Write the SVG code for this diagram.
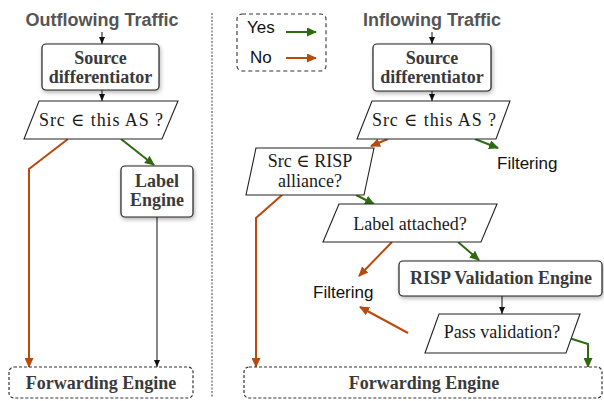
<svg xmlns="http://www.w3.org/2000/svg" width="604" height="401" viewBox="0 0 604 401">
<style>
.title{font-family:"Liberation Sans",Arial,sans-serif;font-weight:bold;font-size:18px;fill:#555;text-anchor:middle}
.bx{fill:#fff;stroke:#222;stroke-width:1.2}
.fw{fill:#fff;stroke:#333;stroke-width:1.2;stroke-dasharray:3 2}
.bt{font-family:"Liberation Serif","Times New Roman",serif;font-weight:bold;font-size:18px;fill:#3a3a3a;text-anchor:middle}
.pt{font-family:"Liberation Serif","DejaVu Serif","Times New Roman",serif;font-size:18px;fill:#1a1a1a;text-anchor:middle}
.st{font-family:"Liberation Sans",Arial,sans-serif;font-size:17px;fill:#111}
.pg{fill:#fff;stroke:#222;stroke-width:1.1}
.or{fill:none;stroke:#b94a0c;stroke-width:2;marker-end:url(#ao)}
.gr{fill:none;stroke:#2d6a10;stroke-width:2;marker-end:url(#ag)}
.bk{fill:none;stroke:#111;stroke-width:1;marker-end:url(#ab)}
</style>
<defs>
<filter id="sh" x="-10%" y="-10%" width="130%" height="140%">
<feDropShadow dx="1" dy="2" stdDeviation="2" flood-color="#000" flood-opacity="0.3"/>
</filter>
<marker id="ao" markerUnits="userSpaceOnUse" markerWidth="10" markerHeight="9" refX="9" refY="4.5" orient="auto"><path d="M0,0 L10,4.5 L0,9 z" fill="#b94a0c"/></marker>
<marker id="ag" markerUnits="userSpaceOnUse" markerWidth="10" markerHeight="9" refX="9" refY="4.5" orient="auto"><path d="M0,0 L10,4.5 L0,9 z" fill="#2d6a10"/></marker>
<marker id="ab" markerUnits="userSpaceOnUse" markerWidth="7" markerHeight="6" refX="7" refY="3" orient="auto"><path d="M0,0 L7,3 L0,6 z" fill="#111"/></marker>
</defs>

<text class="title" x="102" y="26">Outflowing Traffic</text>
<text class="title" x="432" y="26">Inflowing Traffic</text>
<line x1="212" y1="13" x2="212" y2="398" stroke="#444" stroke-width="1" stroke-dasharray="2 1.5"/>

<g id="legend">
<rect x="237" y="14" width="89" height="57" rx="5" fill="#fff" stroke="#333" stroke-width="1.1" stroke-dasharray="4 3"/>
<text class="st" x="247" y="33" font-size="16.5">Yes</text>
<text class="st" x="250" y="63" font-size="16.5">No</text>
<line class="gr" x1="286" y1="32" x2="316" y2="32"/>
<line class="or" x1="286" y1="58" x2="316" y2="58"/>
</g>

<g id="connectors">
<line class="bk" x1="102" y1="32" x2="102" y2="44"/>
<line class="bk" x1="102" y1="90" x2="102" y2="101"/>
<polyline class="or" points="68,139 29,169 29,367"/>
<line class="gr" x1="121" y1="139" x2="154" y2="165"/>
<line class="bk" x1="157" y1="217" x2="157" y2="367"/>

<line class="bk" x1="432" y1="32" x2="432" y2="44"/>
<line class="bk" x1="432" y1="91" x2="432" y2="101"/>
<line class="or" x1="388" y1="139" x2="371" y2="146"/>
<line class="gr" x1="475" y1="139" x2="498" y2="148"/>
<polyline class="or" points="282,195 256,218 256,367"/>
<line class="gr" x1="356" y1="195" x2="374" y2="204"/>
<line class="or" x1="392" y1="242" x2="359" y2="276"/>
<line class="gr" x1="458" y1="242" x2="479" y2="260"/>
<line class="bk" x1="502" y1="296" x2="502" y2="314"/>
<line class="or" x1="408" y1="333" x2="360" y2="307"/>
<polyline class="gr" points="569,338 588,344 588,367"/>
</g>

<g id="src-out">
<rect class="bx" x="42" y="44" width="117" height="46" rx="4" filter="url(#sh)"/>
<text class="bt" x="100.5" y="64">Source</text>
<text class="bt" x="100.5" y="83">differentiator</text>
</g>
<g id="q-out">
<polygon class="pg" points="39,101 178,101 162,139 24,139"/>
<text class="pt" x="101" y="126" textLength="124" lengthAdjust="spacing">Src ∈  this AS ?</text>
</g>
<g id="label-engine">
<rect class="bx" x="121" y="166" width="72" height="51" rx="4" filter="url(#sh)"/>
<text class="bt" x="157" y="187">Label</text>
<text class="bt" x="157" y="206">Engine</text>
</g>
<g id="fwd-out">
<rect class="fw" x="9" y="367" width="184" height="31" rx="5"/>
<text class="bt" x="101" y="389">Forwarding Engine</text>
</g>

<g id="src-in">
<rect class="bx" x="373" y="44" width="118" height="47" rx="4" filter="url(#sh)"/>
<text class="bt" x="432" y="64">Source</text>
<text class="bt" x="432" y="83">differentiator</text>
</g>
<g id="q-in">
<polygon class="pg" points="372,101 510,101 496,139 357,139"/>
<text class="pt" x="434" y="126" textLength="124" lengthAdjust="spacing">Src ∈  this AS ?</text>
</g>
<g id="filter1">
<text class="st" x="497" y="169">Filtering</text>
</g>
<g id="q-risp">
<polygon class="pg" points="256,148 374,148 364,195 246,195"/>
<text class="pt" x="310" y="167">Src ∈ RISP</text>
<text class="pt" x="310" y="187">alliance?</text>
</g>
<g id="q-label">
<polygon class="pg" points="339,204 497,204 481,242 323,242"/>
<text class="pt" x="410" y="230">Label attached?</text>
</g>
<g id="risp-engine">
<rect class="bx" x="399" y="261" width="203" height="35" rx="4" filter="url(#sh)"/>
<text class="bt" x="501" y="284">RISP Validation Engine</text>
</g>
<g id="filter2">
<text class="st" x="313" y="298">Filtering</text>
</g>
<g id="q-pass">
<polygon class="pg" points="439,314 580,314 566,353 425,353"/>
<text class="pt" x="502" y="338">Pass validation?</text>
</g>
<g id="fwd-in">
<rect class="fw" x="244" y="367" width="358" height="31" rx="5"/>
<text class="bt" x="424" y="389">Forwarding Engine</text>
</g>
</svg>
